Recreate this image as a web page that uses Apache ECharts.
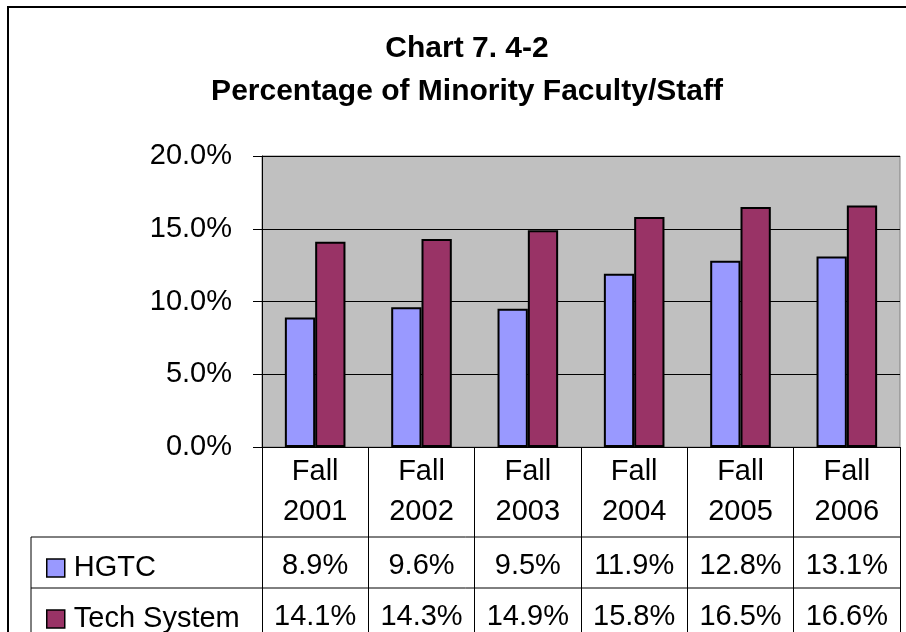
<!DOCTYPE html>
<html>
<head>
<meta charset="utf-8">
<script src="https://cdn.jsdelivr.net/npm/echarts@6/dist/echarts.min.js"></script>
<style>
  html, body { margin: 0; padding: 0; background: #fff; }
  #chart { width: 906px; height: 632px; }
</style>
</head>
<body>
<div id="chart"></div>
<script>
// data
var categories = ['Fall\n2001', 'Fall\n2002', 'Fall\n2003', 'Fall\n2004', 'Fall\n2005', 'Fall\n2006'];
var seriesNames = ['HGTC', 'Tech System'];
var hgtc = [8.9, 9.6, 9.5, 11.9, 12.8, 13.1];
var techSystem = [14.1, 14.3, 14.9, 15.8, 16.5, 16.6];
var yTicks = [0, 5, 10, 15, 20];

var FONT = '"Liberation Sans", Arial, sans-serif';
// plot box + table rows (page pixels)
var gridL = 262, gridT = 156, gridR = 900, gridB = 447;
var tableL = 31, row1 = 537, row2 = 588;
var rowMid = [566, 617]; // text centre of the two value rows

function pct(v) {
  return v.toFixed(1) + '%';
}

var chart = echarts.init(document.getElementById('chart'));

// the two value rows of the data table, drawn as label-only axes
function rowAxis(values, centerY) {
  return {
    type: 'category',
    data: values.map(pct),
    position: 'bottom',
    offset: centerY - gridB,
    axisLine: { show: false },
    axisTick: { show: false },
    axisLabel: {
      interval: 0,
      margin: 0,
      verticalAlign: 'middle',
      fontFamily: FONT,
      fontSize: 29,
      color: '#000'
    }
  };
}

// one legend per table row, so each key sits in its own row
function rowLegend(name, centerY) {
  return {
    data: [name],
    left: 41,
    top: centerY - 18,
    icon: 'rect',
    itemWidth: 18,
    itemHeight: 18,
    selectedMode: false,
    itemStyle: { borderColor: '#000', borderWidth: 1.5 },
    textStyle: {
      fontFamily: FONT,
      fontSize: 29,
      lineHeight: 30,
      color: '#000',
      padding: [0, 0, 0, 4]
    }
  };
}

var option = {
  animation: false,
  backgroundColor: '#fff',
  title: {
    text: 'Chart 7. 4-2\nPercentage of Minority Faculty/Staff',
    left: 462,
    textAlign: 'center',
    top: 22,
    textStyle: {
      fontFamily: FONT,
      fontSize: 30,
      fontWeight: 'bold',
      lineHeight: 43,
      color: '#000'
    }
  },
  legend: [
    rowLegend(seriesNames[0], rowMid[0]),
    rowLegend(seriesNames[1], rowMid[1])
  ],
  grid: {
    left: gridL,
    top: gridT,
    width: gridR - gridL,
    height: gridB - gridT,
    show: true,
    backgroundColor: '#c0c0c0',
    borderColor: '#808080',
    borderWidth: 1,
    containLabel: false,
    outerBoundsMode: 'none'
  },
  xAxis: [
    {
      type: 'category',
      data: categories,
      axisLine: { show: true, lineStyle: { color: '#000', width: 1 } },
      axisTick: {
        show: true,
        length: 200,
        interval: 0,
        alignWithLabel: false,
        lineStyle: { color: '#000', width: 1 }
      },
      axisLabel: {
        interval: 0,
        margin: 45,
        verticalAlign: 'middle',
        fontFamily: FONT,
        fontSize: 29,
        lineHeight: 40,
        color: '#000'
      }
    },
    rowAxis(hgtc, rowMid[0]),
    rowAxis(techSystem, rowMid[1])
  ],
  yAxis: {
    type: 'value',
    min: yTicks[0],
    max: yTicks[yTicks.length - 1],
    interval: 5,
    axisLine: { show: true, lineStyle: { color: '#000', width: 1 } },
    axisTick: { show: true, length: 9, lineStyle: { color: '#000', width: 1 } },
    splitLine: { show: true, lineStyle: { color: '#000', width: 1 } },
    axisLabel: {
      margin: 30,
      fontFamily: FONT,
      fontSize: 29,
      color: '#000',
      formatter: function (v) { return pct(v); }
    }
  },
  series: [
    {
      name: seriesNames[0],
      type: 'bar',
      data: hgtc,
      barGap: '0%',
      barCategoryGap: '43%',
      itemStyle: { color: '#9999ff', borderColor: '#000', borderWidth: 2 }
    },
    {
      name: seriesNames[1],
      type: 'bar',
      data: techSystem,
      itemStyle: { color: '#993366', borderColor: '#000', borderWidth: 2 }
    }
  ],
  graphic: [
    // chart outer frame (runs off the right/bottom of the page)
    {
      type: 'rect',
      shape: { x: 8, y: 7, width: 1000, height: 1000 },
      style: { fill: 'none', stroke: '#000', lineWidth: 2 },
      silent: true
    },
    // data table rules
    {
      type: 'line',
      shape: { x1: tableL, y1: row1, x2: gridR, y2: row1 },
      style: { stroke: '#000', lineWidth: 1 },
      silent: true
    },
    {
      type: 'line',
      shape: { x1: tableL, y1: row2, x2: gridR, y2: row2 },
      style: { stroke: '#000', lineWidth: 1 },
      silent: true
    },
    {
      type: 'line',
      shape: { x1: tableL, y1: row1, x2: tableL, y2: 700 },
      style: { stroke: '#000', lineWidth: 1 },
      silent: true
    }
  ]
};

chart.setOption(option);
</script>
</body>
</html>
